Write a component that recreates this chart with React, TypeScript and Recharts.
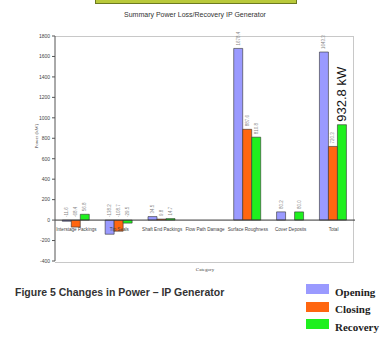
import React from 'react';
import {
  Bar,
  BarChart,
  LabelList,
  Legend,
  ReferenceLine,
  XAxis,
  YAxis,
} from 'recharts';

const categories = [
  'Interstage Packings',
  'Tip Seals',
  'Shaft End Packings',
  'Flow Path Damage',
  'Surface Roughness',
  'Cover Deposits',
  'Total',
];
const opening = [-11.6, -138.2, 34.5, 0, 1678.4, 80.2, 1643.3];
const closing = [-68.4, -108.7, 9.8, 0, 887.6, 0, 720.3];
const recovery = [56.8, -29.5, 14.7, 0, 810.8, 80.0, 932.8];
const yTicks = [-400, -200, 0, 200, 400, 600, 800, 1000, 1200, 1400, 1600, 1800];

const SERIES = [
  { key: 'opening', name: 'Opening', color: '#9a9aff' },
  { key: 'closing', name: 'Closing', color: '#ff6610' },
  { key: 'recovery', name: 'Recovery', color: '#1ef01e' },
];

const totalRecovery = recovery[recovery.length - 1];

const data = categories.map((c, i) => ({
  category: c,
  opening: opening[i],
  closing: closing[i],
  recovery: recovery[i],
}));

const ValueLabel = (props: any) => {
  const { x, y, width, height, value, big } = props;
  const top = Math.min(y, y + height);
  const cx = x + width / 2;
  if (big && value === totalRecovery) {
    return (
      <text
        x={cx}
        y={top - 3}
        transform={`rotate(-90 ${cx} ${top - 3})`}
        fontSize={13}
        fontFamily="Liberation Sans, Arial, sans-serif"
        fill="#111"
        dominantBaseline="central"
      >
        {`${value} kW`}
      </text>
    );
  }
  return (
    <text
      x={cx}
      y={top - 3}
      transform={`rotate(-90 ${cx} ${top - 3})`}
      fontSize={4.5}
      fontFamily="Liberation Sans, Arial, sans-serif"
      fill="#888"
      dominantBaseline="central"
    >
      {Number(value).toFixed(1)}
    </text>
  );
};

const CategoryTick = (props: any) => {
  const { x, y, payload } = props;
  return (
    <text
      x={x}
      y={y - 40}
      textAnchor="middle"
      fontSize={4.6}
      fontFamily="Liberation Sans Narrow, Liberation Sans, Arial, sans-serif"
      fill="#444"
      dominantBaseline="central"
    >
      {payload.value}
    </text>
  );
};

const LegendBox = () => (
  <div style={{ display: 'flex', flexDirection: 'column', gap: 7 }}>
    {SERIES.map((s) => (
      <div key={s.key} style={{ display: 'flex', alignItems: 'center', height: 10.5 }}>
        <div style={{ width: 23, height: 10, background: s.color }} />
        <span
          style={{
            marginLeft: 6,
            marginTop: 5,
            fontFamily: 'Liberation Serif, Times New Roman, serif',
            fontWeight: 'bold',
            fontSize: 11,
            color: '#222',
          }}
        >
          {s.name}
        </span>
      </div>
    ))}
  </div>
);

export default function App() {
  return (
    <div style={{ position: 'absolute', left: 0, top: 0, width: 388, height: 345, background: '#fff', overflow: 'hidden' }}>
      {/* top banner strip */}
      <div style={{ position: 'absolute', left: 95, top: -2, width: 200, height: 4, background: '#b9c93a', border: '1px solid #6c7a20' }} />
      <div
        style={{
          position: 'absolute',
          left: 0,
          width: 390,
          top: 11,
          textAlign: 'center',
          fontFamily: 'Liberation Sans Narrow, Liberation Sans, Arial, sans-serif',
          fontSize: 7,
          color: '#333',
        }}
      >
        Summary Power Loss/Recovery IP Generator
      </div>
      {/* plot frame */}
      <div style={{ position: 'absolute', left: 55, top: 36, width: 298, height: 225, border: '1px solid #c8c8c8', borderLeft: 'none' }} />
      <div style={{ position: 'absolute', left: 0, top: 0 }}>
        <BarChart
          width={388}
          height={345}
          data={data}
          margin={{ top: 36, right: 33, bottom: 64, left: 0 }}
          barCategoryGap="17%"
          barGap={0}
        >
          <XAxis
            dataKey="category"
            axisLine={false}
            tickLine={false}
            height={20}
            interval={0}
            tick={<CategoryTick />}
            label={{ value: 'Category', position: 'insideTop', offset: 6, fontSize: 5, fill: '#444' }}
          />
          <YAxis
            domain={[-400, 1800]}
            ticks={yTicks}
            interval={0}
            width={55}
            tickSize={3}
            axisLine={{ stroke: '#555' }}
            tickLine={{ stroke: '#555' }}
            tick={{ fontSize: 5, fill: '#444', fontFamily: 'Liberation Sans, Arial, sans-serif' }}
            label={{ value: 'Power (kW)', angle: -90, position: 'insideLeft', offset: 36, fontSize: 5, fill: '#444' }}
          />
          <ReferenceLine y={0} stroke="#333" strokeWidth={1} />
          {SERIES.map((s) => (
            <Bar
              key={s.key}
              dataKey={s.key}
              name={s.name}
              fill={s.color}
              stroke="#333"
              strokeWidth={0.6}
              isAnimationActive={false}
            >
              <LabelList dataKey={s.key} content={<ValueLabel big={s.key === 'recovery'} />} />
            </Bar>
          ))}
          <Legend
            layout="vertical"
            align="center"
            verticalAlign="middle"
            content={<LegendBox />}
            wrapperStyle={{ position: 'absolute', left: 306, top: 284, width: 80 }}
          />
        </BarChart>
      </div>
      <div
        style={{
          position: 'absolute',
          left: 15,
          top: 286,
          fontFamily: 'Liberation Sans, Arial, sans-serif',
          fontWeight: 'bold',
          fontSize: 10.5,
          color: '#333',
        }}
      >
        Figure 5 Changes in Power – IP Generator
      </div>
    </div>
  );
}
